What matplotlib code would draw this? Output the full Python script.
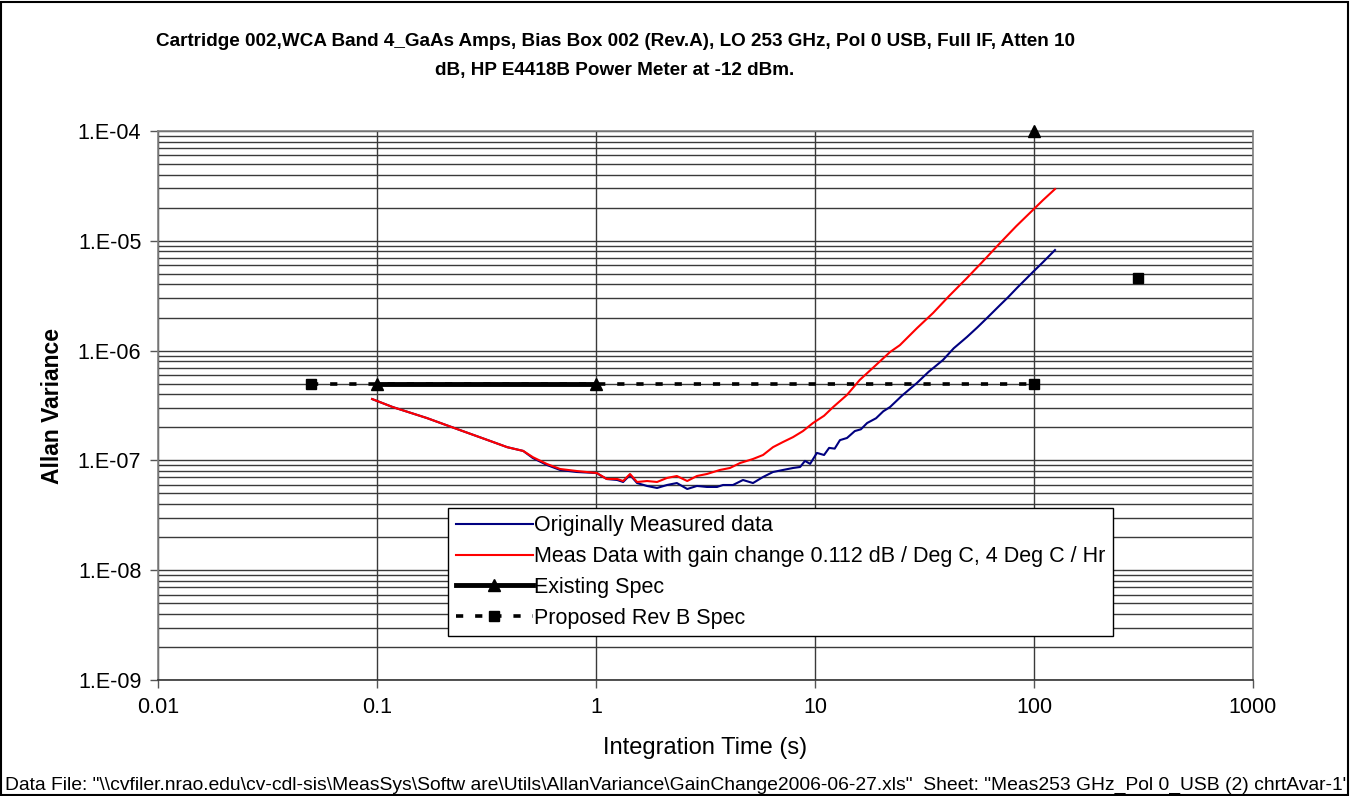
import numpy as np
import matplotlib
matplotlib.use("Agg")
import matplotlib.pyplot as plt
from matplotlib.patches import Rectangle
from matplotlib.ticker import LogLocator, FixedLocator, FixedFormatter, NullFormatter

plt.rcParams['font.family'] = ['Liberation Sans', 'DejaVu Sans']

# ---------------- data ----------------
orig_t = [0.095, 0.118, 0.169, 0.239, 0.339, 0.393, 0.465, 0.515, 0.597, 0.686,
          0.818, 1.01, 1.04, 1.12, 1.25, 1.33, 1.43, 1.54, 1.71, 1.90, 2.11, 2.34,
          2.61, 2.89, 3.21, 3.57, 3.80, 4.22, 4.69, 5.21, 5.79, 6.43, 7.14, 7.94,
          8.55, 9.0, 9.5, 10.2, 11.0, 11.6, 12.3, 13.0, 14.0, 15.2, 16.2, 17.3,
          19.0, 20.5, 22.0, 25.0, 29.2, 33.0, 38.4, 43.0, 49.4, 55.0, 61.0, 70.0,
          76.0, 83.6, 98.9, 110.0, 124.7]
orig_av = [3.62e-7, 3.06e-7, 2.43e-7, 1.89e-7, 1.47e-7, 1.32e-7, 1.22e-7, 1.05e-7,
           9.08e-8, 8.18e-8, 7.84e-8, 7.67e-8, 7.36e-8, 6.77e-8, 6.63e-8, 6.36e-8,
           7.36e-8, 6.22e-8, 5.85e-8, 5.61e-8, 5.97e-8, 6.22e-8, 5.49e-8, 5.85e-8,
           5.73e-8, 5.73e-8, 5.97e-8, 5.97e-8, 6.63e-8, 6.22e-8, 7.06e-8, 7.84e-8,
           8.18e-8, 8.53e-8, 8.71e-8, 9.9e-8, 9.3e-8, 1.17e-7, 1.12e-7, 1.30e-7,
           1.28e-7, 1.53e-7, 1.60e-7, 1.85e-7, 1.92e-7, 2.19e-7, 2.42e-7, 2.80e-7,
           3.06e-7, 3.90e-7, 5.07e-7, 6.40e-7, 8.21e-7, 1.05e-6, 1.33e-6, 1.62e-6,
           1.98e-6, 2.60e-6, 3.05e-6, 3.72e-6, 5.20e-6, 6.40e-6, 8.24e-6]

gain_t = [0.095, 0.118, 0.169, 0.239, 0.339, 0.393, 0.465, 0.515, 0.597, 0.686,
          0.818, 1.01, 1.12, 1.25, 1.33, 1.43, 1.54, 1.71, 1.90, 2.11, 2.34, 2.61,
          2.89, 3.21, 3.68, 4.09, 4.55, 5.21, 5.79, 6.43, 7.14, 7.94, 8.81, 9.79,
          11.0, 12.1, 14.0, 16.0, 19.0, 22.0, 24.4, 29.2, 34.6, 41.0, 49.4, 58.0,
          70.0, 83.0, 98.9, 110.0, 124.7]
gain_av = [3.62e-7, 3.06e-7, 2.43e-7, 1.89e-7, 1.47e-7, 1.32e-7, 1.22e-7, 1.07e-7,
           9.27e-8, 8.35e-8, 8.0e-8, 7.67e-8, 6.77e-8, 6.77e-8, 6.49e-8, 7.52e-8,
           6.36e-8, 6.49e-8, 6.36e-8, 6.92e-8, 7.21e-8, 6.49e-8, 7.21e-8, 7.52e-8,
           8.18e-8, 8.53e-8, 9.47e-8, 1.03e-7, 1.12e-7, 1.32e-7, 1.47e-7, 1.63e-7,
           1.85e-7, 2.19e-7, 2.55e-7, 3.06e-7, 3.95e-7, 5.40e-7, 7.40e-7, 9.7e-7,
           1.12e-6, 1.60e-6, 2.20e-6, 3.15e-6, 4.58e-6, 6.40e-6, 9.55e-6, 1.36e-5,
           1.91e-5, 2.35e-5, 2.96e-5]

exist_t = [0.1, 1.0, np.nan, 100.0]
exist_av = [5e-7, 5e-7, np.nan, 1e-4]

prop_t = [0.05, 100.0]
prop_av = [5e-7, 5e-7]
prop_extra_t = [300.0]
prop_extra_av = [4.6e-6]

x_ticks = [0.01, 0.1, 1, 10, 100, 1000]
x_tick_labels = ['0.01', '0.1', '1', '10', '100', '1000']
y_ticks = [1e-9, 1e-8, 1e-7, 1e-6, 1e-5, 1e-4]
y_tick_labels = ['1.E-09', '1.E-08', '1.E-07', '1.E-06', '1.E-05', '1.E-04']

title1 = "Cartridge 002,WCA Band 4_GaAs Amps, Bias Box 002 (Rev.A), LO 253 GHz, Pol 0 USB, Full IF, Atten 10"
title2 = "dB, HP E4418B Power Meter at -12 dBm."
footer = ('Data File: "\\\\cvfiler.nrao.edu\\cv-cdl-sis\\MeasSys\\Softw are\\Utils\\AllanVariance\\GainChange2006-06-27.xls"'
          '  Sheet: "Meas253 GHz_Pol 0_USB (2) chrtAvar-1"')

# ---------------- figure ----------------
W, H = 1351, 796
fig = plt.figure(figsize=(W / 100, H / 100), dpi=100)
fig.patch.set_facecolor('white')
fig.add_artist(Rectangle((0.001, 0.001), 0.997, 0.997, transform=fig.transFigure,
                         fill=False, edgecolor='black', linewidth=1.5))

ax = fig.add_axes([158 / W, (H - 680) / H, 1095 / W, 549 / H])
ax.set_xscale('log')
ax.set_yscale('log')
ax.set_xlim(0.01, 1000)
ax.set_ylim(1e-9, 1e-4)

# grid
ax.yaxis.set_minor_locator(LogLocator(base=10, subs=np.arange(2, 10)))
ax.yaxis.set_minor_formatter(NullFormatter())
ax.xaxis.set_minor_locator(FixedLocator([]))
ax.grid(True, which='major', axis='both', color='#3a3a3a', linewidth=1.0)
ax.grid(True, which='minor', axis='y', color='#3a3a3a', linewidth=1.0)
ax.set_axisbelow(True)
ax.tick_params(which='minor', length=0)
ax.tick_params(which='major', direction='out', length=6, width=1, color='#555555',
               labelsize=15.5, pad=6)

ax.xaxis.set_major_locator(FixedLocator(x_ticks))
ax.xaxis.set_major_formatter(FixedFormatter(x_tick_labels))
ax.yaxis.set_major_locator(FixedLocator(y_ticks))
ax.yaxis.set_major_formatter(FixedFormatter(y_tick_labels))

for s in ax.spines.values():
    s.set_color('#808080')
    s.set_linewidth(1.2)
ax.spines['bottom'].set_color('#333333')

# series
ax.plot(orig_t, orig_av, color='#000080', linewidth=1.5,
        label='Originally Measured data', zorder=3)
ax.plot(gain_t, gain_av, color='#ff0000', linewidth=1.5,
        label='Meas Data with gain change 0.112 dB / Deg C, 4 Deg C / Hr', zorder=4)
ax.plot(prop_t, prop_av, color='black', linewidth=2.6, linestyle=(0, (2, 3.3)),
        marker='s', markersize=7, clip_on=False, zorder=5,
        label='Proposed Rev B Spec')
ax.plot(prop_extra_t, prop_extra_av, color='black', linestyle='none', marker='s',
        markersize=7, zorder=5)
ax.plot(exist_t, exist_av, color='black', linewidth=3.5, marker='^', markersize=9,
        clip_on=False, zorder=6, label='Existing Spec')

handles, labels = ax.get_legend_handles_labels()
order = [0, 1, 3, 2]
leg = ax.legend([handles[i] for i in order], [labels[i] for i in order],
                loc='lower left', bbox_to_anchor=(0.265, 0.08),
                borderaxespad=0, fontsize=15.5, handlelength=3.6,
                handletextpad=0.05, labelspacing=0.45, borderpad=0.35,
                fancybox=False, framealpha=1, edgecolor='black')
leg.get_frame().set_linewidth(1.0)
leg.set_zorder(10)

ax.set_xlabel('Integration Time (s)', fontsize=17, labelpad=14)
ax.set_ylabel('Allan Variance', fontsize=16.5, fontweight='bold', labelpad=10)

fig.text(615 / W, 1 - 41 / H, title1, ha='center', va='center',
         fontsize=13.6, fontweight='bold')
fig.text(615 / W, 1 - 71 / H, title2, ha='center', va='center',
         fontsize=13.6, fontweight='bold')

ft = fig.text(5 / W, 1 - 785 / H, footer, ha='left', va='center', fontsize=11)
fig.canvas.draw()
bb = ft.get_window_extent()
target = 1338.0
ft.set_fontsize(11 * target / bb.width)

fig.savefig('out.png', dpi=100)
